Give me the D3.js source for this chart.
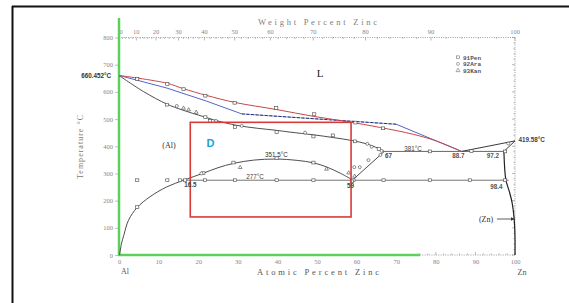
<!DOCTYPE html>
<html><head><meta charset="utf-8">
<script src="https://cdn.jsdelivr.net/npm/d3@7"></script>
<style>html,body{margin:0;padding:0;background:#fff;overflow:hidden}</style>
</head><body>
<svg id="c" width="569" height="303"></svg>
<script>
// ---------- data (atomic % Zn, temperature °C) ----------
const atTicks = [0,10,20,30,40,50,60,70,80,90,100];
const wtTicks = [0,10,20,30,40,50,60,70,80,90,100];
const tempTicks = [0,100,200,300,400,500,600,700,800];

const liquidusRed = [[0,660.45],[12.1,632],[16.2,612],[22.1,587],[29.3,561],[39.8,535],[49.1,510],[57.5,491],[66,469],[74.3,444],[80.2,419],[86.5,381]];
const liquidusBlueA = [[0,660.45],[12.1,614],[22.1,566],[31,519]];
const liquidusBlueB = [[31,519],[70,481]];
const liquidusBlueC = [[70,481],[86.5,381]];
const solidusAl = [[0,660.45],[6.2,601],[12.1,555],[15.9,534],[21.3,509],[24.7,494],[29.7,477],[35,466],[39.5,459],[43.2,452],[49.1,442],[54.1,432],[58.8,421],[62.5,409],[65.5,392],[67,381]];
const solvusDome = [[0.15,0],[0.6,40],[1.2,72],[2.4,128],[4.6,175],[7.8,214],[12,250],[16.5,276],[21.3,301],[25,321],[28.9,337],[34,349],[39.5,353],[45,348],[49.1,339],[52.4,324],[56,300],[59,276]];
const gapToSolidus = [[59,276],[67,381]];
const eutecticLine = [[67,381],[97.2,381]];
const monotectoidLine = [[15.8,275],[98.4,275]];
const znLiquidus = [[86.5,381],[100,419.58]];
const znSolidus = [[97.2,381],[100,419.58]];
const znSolvus = [[97.2,381],[97.7,276],[98.6,232],[99.3,190],[99.8,130],[100,60],[100,0]];

const pen = [[4.6,648],[12.2,629],[16.3,610],[21.8,586],[29.2,560],[39.7,541],[49.3,518],[59.7,487],[66.7,466],
  [12.1,553],[21.8,507],[23,493],[29.3,471],[39.8,452],[49.1,436],[54,440],[59.6,418],[65.6,390],
  [21.3,301],[28.9,340],[39.8,356],[49.1,340],[4.6,176],
  [4.6,275],[12.2,275],[15.4,275],[16.7,275],[21.7,275],[29.3,275],[39.8,275],[49.1,275],[59.2,275],[66.8,275],[78.5,275],[88.6,275],[97.5,275],
  [78.5,381],[89,382],[97.5,381],[58.8,271]];
const ara = [[14.6,548],[24.5,493],[31,475],[47,450],[62.7,409],[63.8,398],[66.3,383],[59.4,323],[60.8,323],[63,349],[66,368],[98.3,410],[20.8,300]];
const kan = [[16.3,540],[17.6,534],[19.5,525],[30.6,322],[52.4,316],[58,302],[59.5,290]];

const legendNames = ["91Pen","92Ara","93Kan"];
const highlightAt = [18, 58.6];
const highlightT = [140, 488];

// ---------- drawing ----------
const svg = d3.select("#c");
const x = d3.scaleLinear().domain([0,100]).range([119,515]);
const y = d3.scaleLinear().domain([0,800]).range([255,37.5]);
const wtToAt = w => { if (w<=0) return 0; if (w>=100) return 100; const a=w/65.38, b=(100-w)/26.98; return 100*a/(a+b); };

// outer frame
svg.append("line").attr("x1",12).attr("x2",569).attr("y1",6.5).attr("y2",6.5).attr("stroke","#111").attr("stroke-width",2);
svg.append("line").attr("x1",12.5).attr("x2",12.5).attr("y1",6).attr("y2",303).attr("stroke","#111").attr("stroke-width",2);

const grey = "#888";
// top dotted axis (weight %)
svg.append("line").attr("x1",x(0)).attr("x2",x(100)).attr("y1",y(800)).attr("y2",y(800))
  .attr("stroke",grey).attr("stroke-width",0.8).attr("stroke-dasharray","1,1.3");
svg.append("g").selectAll("line").data(d3.range(0,101,2)).join("line")
  .attr("x1",d=>x(wtToAt(d))).attr("x2",d=>x(wtToAt(d)))
  .attr("y1",y(800)).attr("y2",d=>y(800)+(d%10===0?3:1.5)).attr("stroke",grey).attr("stroke-width",0.6);
svg.append("g").selectAll("text").data(wtTicks).join("text")
  .attr("x",d=>x(wtToAt(d))+(d===0?2:0)).attr("y",34).attr("text-anchor","middle")
  .attr("font-family","Liberation Serif").attr("font-size",6.5).attr("fill","#888").text(d=>d);
// right dotted axis
svg.append("line").attr("x1",x(100)).attr("x2",x(100)).attr("y1",y(800)).attr("y2",y(0))
  .attr("stroke",grey).attr("stroke-width",0.8).attr("stroke-dasharray","1,1.3");
svg.append("g").selectAll("line").data(d3.range(0,801,20)).join("line")
  .attr("x1",x(100)).attr("x2",d=>x(100)-(d%100===0?3:1.5))
  .attr("y1",d=>y(d)).attr("y2",d=>y(d)).attr("stroke",grey).attr("stroke-width",0.6);
// bottom dotted remainder
svg.append("line").attr("x1",x(76)).attr("x2",x(100)).attr("y1",y(0)).attr("y2",y(0))
  .attr("stroke",grey).attr("stroke-width",0.8).attr("stroke-dasharray","1,1.3");
svg.append("g").selectAll("line").data(d3.range(76,101,2)).join("line")
  .attr("x1",d=>x(d)).attr("x2",d=>x(d)).attr("y1",y(0)).attr("y2",d=>y(0)-(d%10===0?3:1.5))
  .attr("stroke",grey).attr("stroke-width",0.6);

// left axis
const yAxis = svg.append("g").attr("transform",`translate(${x(0)-1},0)`)
  .call(d3.axisLeft(y).tickValues(tempTicks).tickSize(3).tickPadding(2).tickFormat(d3.format("d")));
yAxis.select(".domain").remove();
yAxis.selectAll("line").attr("stroke","#999").attr("stroke-width",0.6);
yAxis.selectAll("text").attr("font-family","Liberation Serif").attr("font-size",6.5).attr("fill","#888");
// bottom axis
const xAxis = svg.append("g").attr("transform",`translate(0,${y(0)})`)
  .call(d3.axisBottom(x).tickValues(atTicks).tickSize(0).tickPadding(4.5));
xAxis.select(".domain").remove();
xAxis.selectAll("text").attr("font-family","Liberation Serif").attr("font-size",6.5).attr("fill","#888");

// green axes
svg.append("line").attr("x1",x(0)).attr("x2",x(0)).attr("y1",18).attr("y2",y(0)+1)
  .attr("stroke","#5bd15b").attr("stroke-width",2.5);
svg.append("line").attr("x1",x(0)-1).attr("x2",x(76)).attr("y1",y(0)).attr("y2",y(0))
  .attr("stroke","#5bd15b").attr("stroke-width",2.5);

// curves
const smooth = d3.line().x(d=>x(d[0])).y(d=>y(d[1])).curve(d3.curveCatmullRom.alpha(0.5));
const straight = d3.line().x(d=>x(d[0])).y(d=>y(d[1]));
const blk = "#3a3a3a";
function path(data, gen, color, w, dash){
  const p = svg.append("path").attr("d",gen(data)).attr("fill","none").attr("stroke",color).attr("stroke-width",w);
  if (dash) p.attr("stroke-dasharray",dash);
  return p;
}
path(solidusAl, smooth, blk, 0.9);
path(solvusDome, smooth, blk, 0.9);
path(gapToSolidus, straight, blk, 0.9);
path(eutecticLine, straight, "#555", 0.9);
path(monotectoidLine, straight, "#666", 0.9);
path(znLiquidus, straight, blk, 1);
path(znSolidus, straight, blk, 1);
path(znSolvus, smooth, "#222", 1.2);
path(liquidusBlueA, straight, "#5565c8", 1);
path(liquidusBlueB, straight, "#7d8ad6", 0.8);
path(liquidusBlueB, straight, "#2b3170", 1, "3,1.6");
path(liquidusBlueC, straight, "#5565c8", 1);
path(liquidusRed, smooth, "#c64848", 1);

// markers
const mk = svg.append("g").attr("fill","#fff").attr("stroke","#444").attr("stroke-width",0.6);
mk.selectAll(".sq").data(pen).join("rect").attr("class","sq")
  .attr("x",d=>x(d[0])-1.6).attr("y",d=>y(d[1])-1.4).attr("width",3.2).attr("height",2.8);
mk.selectAll(".ci").data(ara).join("circle").attr("class","ci")
  .attr("cx",d=>x(d[0])).attr("cy",d=>y(d[1])).attr("r",1.5);
const tri = d3.symbol().type(d3.symbolTriangle).size(6);
mk.selectAll(".tr").data(kan).join("path").attr("class","tr")
  .attr("transform",d=>`translate(${x(d[0])},${y(d[1])})`).attr("d",tri);

// legend
const lg = svg.append("g").attr("transform","translate(458,57.3)");
legendNames.forEach((n,i)=>{
  const g = lg.append("g").attr("transform",`translate(0,${i*6.6})`);
  if (i===0) g.append("rect").attr("x",-1.6).attr("y",-1.4).attr("width",3.2).attr("height",2.8).attr("fill","none").attr("stroke","#555").attr("stroke-width",0.5);
  if (i===1) g.append("circle").attr("r",1.5).attr("fill","none").attr("stroke","#555").attr("stroke-width",0.5);
  if (i===2) g.append("path").attr("d",d3.symbol().type(d3.symbolTriangle).size(7)()).attr("fill","none").attr("stroke","#555").attr("stroke-width",0.5);
  g.append("text").attr("x",5).attr("y",2.2).attr("font-family","Liberation Mono").attr("font-weight","bold")
    .attr("font-size",6).attr("fill","#555").text(n);
});

// highlight box
svg.append("rect").attr("x",x(highlightAt[0])).attr("y",y(highlightT[1]))
  .attr("width",x(highlightAt[1])-x(highlightAt[0])).attr("height",y(highlightT[0])-y(highlightT[1]))
  .attr("fill","none").attr("stroke","#d83a3a").attr("stroke-width",1.6);

// labels
function t(txt, px, py, opt={}){
  const e = svg.append("text").attr("x",px).attr("y",py).attr("text-anchor",opt.anchor||"middle")
    .attr("dominant-baseline","central")
    .attr("font-family",opt.family||"Liberation Sans").attr("font-size",opt.size||6.5)
    .attr("font-weight",opt.weight||"normal").attr("fill",opt.fill||"#333").text(txt);
  if (opt.len) e.attr("textLength",opt.len).attr("lengthAdjust","spacing");
  if (opt.rot) e.attr("transform",`rotate(${opt.rot},${px},${py})`);
  return e;
}
t("Weight Percent Zinc", 317.5, 22, {family:"Liberation Serif", size:8.5, fill:"#808080", len:119});
t("Atomic Percent Zinc", 318, 271.5, {family:"Liberation Serif", size:8.5, fill:"#555", len:122});
t("Temperature °C", 80.5, 147, {family:"Liberation Serif", size:8, fill:"#777", len:64, rot:-90});
t("Al", 125, 271.5, {family:"Liberation Serif", size:8, fill:"#555"});
t("Zn", 522, 272, {family:"Liberation Serif", size:8, fill:"#555"});
t("660.452°C", 111, 75.5, {anchor:"end", size:6.3, weight:"bold", fill:"#333"});
t("419.58°C", 518.5, 139.5, {anchor:"start", size:6.3, weight:"bold", fill:"#444"});
t("L", 320, 73, {family:"Liberation Serif", size:11, fill:"#222"});
t("(Al)", 169, 145, {family:"Liberation Serif", size:8, fill:"#333"});
t("(Zn)", 486, 219, {family:"Liberation Serif", size:8, fill:"#333"});
t("D", 210.5, 142.5, {size:11, weight:"bold", fill:"#1f9ed8"});
t("351.5°C", 276.5, 154, {size:6.3, fill:"#333"});
t("277°C", 255, 176.5, {size:6.3, fill:"#444"});
t("16.5", 190.5, 184.5, {size:6.3, weight:"bold", fill:"#444"});
t("59", 350.5, 185, {size:6.3, weight:"bold", fill:"#444"});
t("67", 388.5, 155, {size:6.3, weight:"bold", fill:"#444"});
t("381°C", 413, 148.5, {size:6.3, fill:"#444"});
t("88.7", 458.5, 155, {size:6.3, weight:"bold", fill:"#555"});
t("97.2", 493, 155, {size:6.3, weight:"bold", fill:"#555"});
t("98.4", 496.5, 186, {size:6.3, weight:"bold", fill:"#555"});

// (Zn) arrow
svg.append("defs").append("marker").attr("id","ah").attr("viewBox","0 0 6 6").attr("refX",6).attr("refY",3)
  .attr("markerWidth",5).attr("markerHeight",5).attr("orient","auto")
  .append("path").attr("d","M0,0L6,3L0,6Z").attr("fill","#333");
svg.append("line").attr("x1",497).attr("x2",x(100)-0.5).attr("y1",219).attr("y2",219)
  .attr("stroke","#333").attr("stroke-width",0.8).attr("marker-end","url(#ah)");
</script>
</body></html>
